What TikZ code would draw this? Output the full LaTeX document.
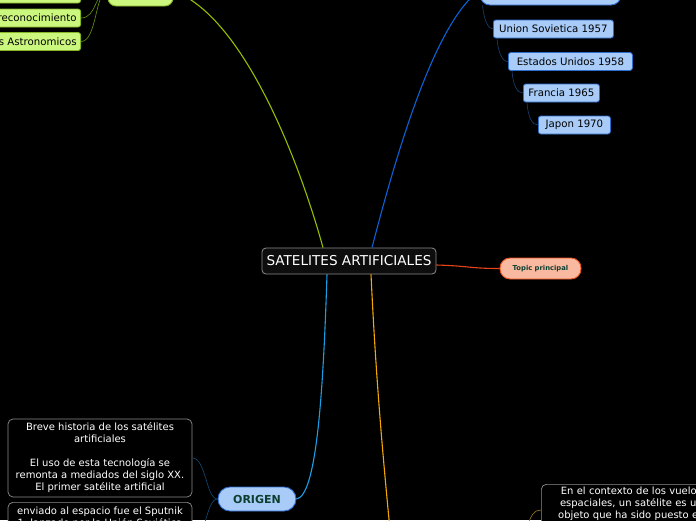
\documentclass[tikz,border=0pt]{standalone}
\usepackage{fontspec}
\setmainfont{DejaVu Sans}
\definecolor{gfill}{HTML}{CCF77E}
\definecolor{gdraw}{HTML}{86B528}
\definecolor{gline}{HTML}{94BE00}
\definecolor{gsub}{HTML}{6A9412}
\definecolor{bfill}{HTML}{A8CBF7}
\definecolor{bdraw}{HTML}{2F6CD0}
\definecolor{bline}{HTML}{0A62D6}
\definecolor{bsub}{HTML}{1C3F70}
\definecolor{cline}{HTML}{1A9FE5}
\definecolor{osub}{HTML}{0E4A78}
\definecolor{tfill}{HTML}{F9B9A0}
\definecolor{tdraw}{HTML}{E8501C}
\definecolor{tline}{HTML}{E8441A}
\definecolor{oline}{HTML}{F5A800}
\definecolor{rline}{HTML}{9A7A20}
\definecolor{ttext}{HTML}{0C3F30}
\definecolor{boxgray}{HTML}{8C8C8C}
\begin{document}
\begin{tikzpicture}[x=1pt,y=-1pt,
  centerbox/.style={draw=boxgray,fill=black!95,line width=0.8pt,rounded corners=4pt,
    text=white,font=\fontsize{13.6}{15}\selectfont,inner sep=0pt,
    minimum width=174pt,minimum height=26pt},
  textbox/.style={draw=boxgray,fill=black,line width=0.7pt,rounded corners=5pt,
    text=white,font=\fontsize{10}{12}\selectfont,align=center,inner xsep=2pt,inner ysep=3pt},
  bsubbox/.style={draw=bdraw,fill=bfill,line width=0.8pt,rounded corners=2.5pt,
    text=black,font=\fontsize{10.2}{12}\selectfont,inner sep=0pt,minimum height=18pt,anchor=west},
  gsubbox/.style={draw=gdraw,fill=gfill,line width=0.8pt,rounded corners=2.5pt,
    text=black,font=\fontsize{10.2}{12}\selectfont,inner xsep=4pt,inner ysep=0pt,minimum height=18pt,anchor=east},
  pillbox/.style={draw=bdraw,fill=bfill,line width=0.9pt,inner sep=0pt},
  sublink/.style={line width=0.6pt},
  mainlink/.style={line width=1.1pt}]
\useasboundingbox (0,0) rectangle (696,520);
\fill[black] (0,0) rectangle (696,520);
\clip (0,0) rectangle (696,520);

% central node
\node[centerbox] (c) at (349,261) {SATELITES ARTIFICIALES};

% top-left green branch
\node[draw=gdraw,fill=gfill,line width=0.9pt,rounded corners=8pt,minimum width=65pt,minimum height=30pt] (gm) at (140.5,-9) {};
\node[gsubbox,minimum width=90pt] (g0) at (81,-6) {};
\node[gsubbox] (g1) at (81,18) {Satelites de reconocimiento};
\node[gsubbox] (g2) at (81,41.5) {Satelites Astronomicos};

% top-right blue branch
\node[pillbox,rounded corners=10pt,minimum width=141pt,minimum height=30pt] (bm) at (550.5,-10) {};
\node[bsubbox,minimum width=120pt] (u) at (493,29) {Union Sovietica 1957};
\node[bsubbox,minimum width=124pt] (e) at (508,61.5) {Estados Unidos 1958};
\node[bsubbox,minimum width=76pt] (f) at (523,93) {Francia 1965};
\node[bsubbox,minimum width=72pt] (j) at (538,125) {Japon 1970};

% topic principal
\node[draw=tdraw,fill=tfill,line width=0.9pt,rounded corners=10pt,minimum width=81pt,minimum height=21pt,
  inner sep=0pt,text=ttext,font=\bfseries\fontsize{6.8}{8}\selectfont] (t) at (540.5,268.5) {Topic principal};

% ORIGEN branch
\node[pillbox,rounded corners=12pt,minimum width=78pt,minimum height=24pt,text=ttext,
  font=\bfseries\fontsize{11}{13}\selectfont] (o) at (257,499) {ORIGEN};
\node[textbox,minimum width=184pt,minimum height=78pt] (b) at (100,458)
  {Breve historia de los satélites\\artificiales\\~\\El uso de esta tecnología se\\remonta a mediados del siglo XX.\\El primer satélite artificial};
\node[textbox,minimum width=184pt,anchor=north,inner ysep=4.5pt] (s) at (100,502)
  {enviado al espacio fue el Sputnik\\1, lanzado por la Unión Soviética\\en octubre de 1957.};

% bottom-right box
\node[textbox,text width=172pt,inner xsep=4pt,anchor=north west] (r) at (541,484)
  {En el contexto de los vuelos\\espaciales, un satélite es un\\objeto que ha sido puesto en\\órbita alrededor de un\\cuerpo celeste.\\~};
\coordinate (ob) at (393,560);
\coordinate (rq) at (526,532);

% main connectors
\draw[gline,mainlink] ([xshift=-26pt]c.north) .. controls (296,150) and (240,15) .. (gm.east);
\draw[bline,mainlink] ([xshift=23pt]c.north) .. controls (405,120) and (440,20) .. (bm.west);
\draw[tline,mainlink] ([yshift=-4pt]c.east) .. controls (470,266) and (470,268.5) .. (t.west);
\draw[cline,mainlink] ([xshift=-22pt]c.south) .. controls (323,400) and (316,496) .. (o.east);
\draw[oline,mainlink] ([xshift=22pt]c.south) .. controls (376,380) and (383,460) .. (ob);

% green sub connectors
\draw[gsub,sublink] (gm.west) .. controls (95,-9) and (97,-6) .. (g0.east);
\draw[gsub,sublink] (gm.west) .. controls (95,-9) and (97,18) .. (g1.east);
\draw[gsub,sublink] (gm.west) .. controls (95,-9) and (97,41.5) .. (g2.east);

% blue sub connectors
\draw[bsub,sublink] ([xshift=3pt]bm.south west) .. controls (484,20) and (488,29) .. (u.west);
\draw[bsub,sublink] ([xshift=4pt]u.south west) .. controls (498,52) and (502,61.5) .. (e.west);
\draw[bsub,sublink] ([xshift=4pt]e.south west) .. controls (513,85) and (517,93) .. (f.west);
\draw[bsub,sublink] ([xshift=4pt]f.south west) .. controls (528,117) and (532,125) .. (j.west);

% ORIGEN sub connectors
\draw[osub,sublink] (o.west) .. controls (206,499) and (206,458) .. (b.east);
\draw[osub,sublink] (o.west) .. controls (206,499) and (206,540) .. ([yshift=-38pt]s.north east);

% bottom-right connector
\draw[rline,sublink] (rq) .. controls (530,514) and (535,510) .. ([yshift=-26pt]r.north west);
\end{tikzpicture}
\end{document}
